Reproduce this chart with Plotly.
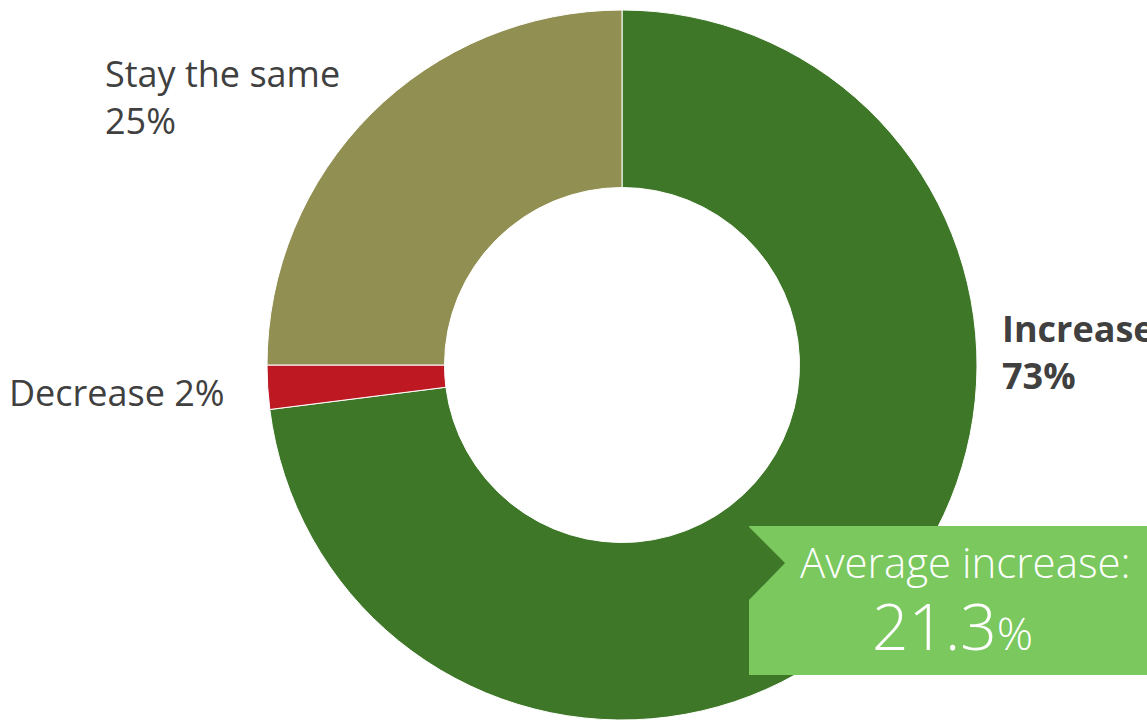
import plotly.graph_objects as go

labels = ["Increase", "Decrease", "Stay the same"]
values = [73, 2, 25]
colors = ["#3E7728", "#BE1823", "#918F52"]
avg_label = "Average increase:"
avg_value = 21.3

W, H = 1147, 720
cx, cy, R = 622, 365, 355

def px(x):
    return x / W

def py(y):
    return 1 - y / H

fig = go.Figure()
fig.add_trace(go.Pie(
    labels=labels, values=values, sort=False, direction="clockwise", rotation=0,
    hole=0.5, textinfo="none", hoverinfo="label+percent", showlegend=False,
    marker=dict(colors=colors, line=dict(color="white", width=1)),
    domain=dict(x=[px(cx - R), px(cx + R)], y=[py(cy + R), py(cy - R)]),
))

font_family = "Open Sans"
txt_color = "#404040"

anns = []
# Stay the same
anns.append(dict(x=px(103), y=py(97), xref="paper", yref="paper", xanchor="left", yanchor="middle",
                 align="left", showarrow=False,
                 text=f"{labels[2]}<br>{values[2]}%",
                 font=dict(family=font_family, size=36, color=txt_color)))
# Decrease
anns.append(dict(x=px(7), y=py(393), xref="paper", yref="paper", xanchor="left", yanchor="middle",
                 align="left", showarrow=False,
                 text=f"{labels[1]} {values[1]}%",
                 font=dict(family=font_family, size=36, color=txt_color)))
# Increase
anns.append(dict(x=px(1000), y=py(352), xref="paper", yref="paper", xanchor="left", yanchor="middle",
                 align="left", showarrow=False,
                 text=f"<b>{labels[0]}<br>{values[0]}%</b>",
                 font=dict(family=font_family, size=36, color=txt_color)))
# Average box text
anns.append(dict(x=px(965), y=py(561), xref="paper", yref="paper", xanchor="center", yanchor="middle",
                 showarrow=False, text=avg_label,
                 font=dict(family=font_family, size=42, color="white", weight=300)))
anns.append(dict(x=px(952), y=py(625), xref="paper", yref="paper", xanchor="center", yanchor="middle",
                 showarrow=False,
                 text=f"{avg_value}<span style='font-size:45px'>%</span>",
                 font=dict(family=font_family, size=64, color="white", weight=300)))

shapes = [
    dict(type="rect", xref="paper", yref="paper", x0=px(749), x1=1.0, y0=py(675), y1=py(526),
         fillcolor="#7AC85E", line=dict(width=0), layer="above"),
    dict(type="path", xref="paper", yref="paper",
         path=f"M {px(749)},{py(527)} L {px(785)},{py(563)} L {px(749)},{py(600)} Z",
         fillcolor="#3E7728", line=dict(width=0), layer="above"),
]

fig.update_layout(
    width=W, height=H, margin=dict(l=0, r=0, t=0, b=0),
    paper_bgcolor="white", plot_bgcolor="white",
    annotations=anns, shapes=shapes,
)

fig.write_html("out.html", config={"displayModeBar": False},
               post_script="document.body.style.margin='0';document.body.style.overflow='hidden';")
